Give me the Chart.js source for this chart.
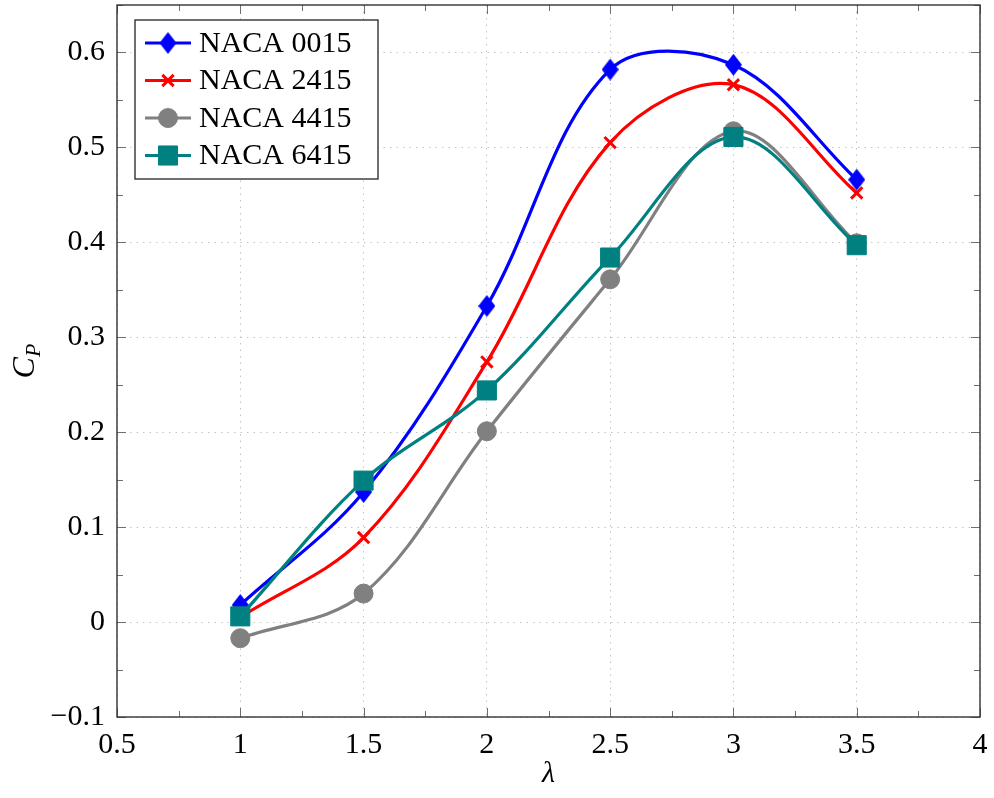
<!DOCTYPE html>
<html>
<head>
<meta charset="utf-8">
<script src="https://cdn.jsdelivr.net/npm/chart.js@4"></script>
<style>
  html, body { margin: 0; padding: 0; background: #fff; }
</style>
</head>
<body>
<canvas id="cpChart" width="994" height="798"></canvas>
<script>
// tip speed ratio values and power coefficients
const lambdaVals = [1, 1.5, 2, 2.5, 3, 3.5];
const naca0015 = [0.018, 0.137, 0.333, 0.582, 0.587, 0.466];
const naca2415 = [0.005, 0.089, 0.274, 0.505, 0.566, 0.452];
const naca4415 = [-0.017, 0.030, 0.201, 0.361, 0.517, 0.399];
const naca6415 = [0.006, 0.149, 0.244, 0.384, 0.511, 0.397];
const seriesNames = ["NACA 0015", "NACA 2415", "NACA 4415", "NACA 6415"];
const xTicks = [0.5, 1, 1.5, 2, 2.5, 3, 3.5, 4];
const yTicks = [-0.1, 0, 0.1, 0.2, 0.3, 0.4, 0.5, 0.6];

const serif = "'Liberation Serif', 'DejaVu Serif', serif";
const tickFont = { family: serif, size: 30 };

// pgfplots style diamond (taller than wide)
function makeDiamond(color, w, h) {
  const c = document.createElement("canvas");
  c.width = w;
  c.height = h;
  const g = c.getContext("2d");
  g.fillStyle = color;
  g.beginPath();
  g.moveTo(w / 2, 0);
  g.lineTo(w, h / 2);
  g.lineTo(w / 2, h);
  g.lineTo(0, h / 2);
  g.closePath();
  g.fill();
  return c;
}

function series(label, values, color, style, radius, order) {
  return {
    label: label,
    data: lambdaVals.map((x, i) => ({ x: x, y: values[i] })),
    borderColor: color,
    backgroundColor: color,
    pointBackgroundColor: color,
    pointBorderColor: color,
    pointStyle: style,
    pointRadius: radius,
    pointBorderWidth: style === "crossRot" ? 3 : 1,
    borderWidth: 3.2,
    tension: 0.35,
    order: order
  };
}

const datasets = [
  series(seriesNames[0], naca0015, "#0000ff", makeDiamond("#0000ff", 17, 22), 9, 4),
  series(seriesNames[1], naca2415, "#ff0000", "crossRot", 8, 3),
  series(seriesNames[2], naca4415, "#808080", "circle", 9.5, 2),
  series(seriesNames[3], naca6415, "#008080", "rect", 13.5, 1)
];

function fmt(v) {
  return v < 0 ? "\u2212" + Math.abs(v) : String(v);
}

function midpoints(arr) {
  const out = [];
  for (let i = 1; i < arr.length; i++) out.push((arr[i - 1] + arr[i]) / 2);
  return out;
}

// frame, inward ticks, legend and axis titles
const framePlugin = {
  id: "frame",
  afterDatasetsDraw(chart) {
    const ctx = chart.ctx;
    const a = chart.chartArea;
    const x = chart.scales.x;
    const y = chart.scales.y;
    ctx.save();

    // tick marks on all four sides
    ctx.strokeStyle = "#707070";
    ctx.lineWidth = 1;
    const tickX = (v, len) => {
      const px = Math.round(x.getPixelForValue(v)) + 0.5;
      ctx.beginPath();
      ctx.moveTo(px, a.bottom); ctx.lineTo(px, a.bottom - len);
      ctx.moveTo(px, a.top); ctx.lineTo(px, a.top + len);
      ctx.stroke();
    };
    const tickY = (v, len) => {
      const py = Math.round(y.getPixelForValue(v)) + 0.5;
      ctx.beginPath();
      ctx.moveTo(a.left, py); ctx.lineTo(a.left + len, py);
      ctx.moveTo(a.right, py); ctx.lineTo(a.right - len, py);
      ctx.stroke();
    };
    xTicks.forEach(v => tickX(v, 9));
    midpoints(xTicks).forEach(v => tickX(v, 6));
    yTicks.forEach(v => tickY(v, 9));
    midpoints(yTicks.concat([0.7])).forEach(v => { if (v < y.max) tickY(v, 6); });

    // frame
    ctx.strokeStyle = "#333333";
    ctx.lineWidth = 1.4;
    ctx.strokeRect(a.left, a.top, a.right - a.left, a.bottom - a.top);

    // legend
    const lx = a.left + 18, ly = a.top + 15, lw = 243, lh = 159;
    ctx.fillStyle = "#ffffff";
    ctx.fillRect(lx, ly, lw, lh);
    ctx.strokeStyle = "#222222";
    ctx.lineWidth = 1.3;
    ctx.strokeRect(lx, ly, lw, lh);
    ctx.font = "30px " + serif;
    ctx.textBaseline = "middle";
    ctx.textAlign = "left";
    chart.data.datasets.forEach((ds, i) => {
      const cy = ly + 23 + i * 37.5;
      ctx.strokeStyle = ds.borderColor;
      ctx.lineWidth = ds.borderWidth;
      ctx.beginPath();
      ctx.moveTo(lx + 10, cy);
      ctx.lineTo(lx + 56, cy);
      ctx.stroke();
      ctx.fillStyle = ds.backgroundColor;
      ctx.strokeStyle = ds.borderColor;
      ctx.lineWidth = ds.pointBorderWidth;
      Chart.helpers.drawPoint(ctx, {
        pointStyle: ds.pointStyle,
        radius: ds.pointRadius,
        rotation: 0,
        borderWidth: ds.pointBorderWidth
      }, lx + 33, cy);
      ctx.fillStyle = "#000000";
      ctx.fillText(ds.label, lx + 64, cy + 1);
    });

    // x title
    ctx.fillStyle = "#000000";
    ctx.font = "italic 30px " + serif;
    ctx.textAlign = "center";
    ctx.textBaseline = "middle";
    ctx.fillText("\u03bb", (a.left + a.right) / 2, 774);

    // y title C_P
    ctx.translate(24, (a.top + a.bottom) / 2);
    ctx.rotate(-Math.PI / 2);
    ctx.textAlign = "left";
    ctx.textBaseline = "alphabetic";
    ctx.font = "italic 32px " + serif;
    const wC = ctx.measureText("C").width;
    ctx.font = "italic 22px " + serif;
    const wP = ctx.measureText("P").width;
    const x0 = -(wC + wP) / 2;
    ctx.font = "italic 32px " + serif;
    ctx.fillText("C", x0, 10);
    ctx.font = "italic 22px " + serif;
    ctx.fillText("P", x0 + wC, 16);

    ctx.restore();
  }
};

new Chart(document.getElementById("cpChart"), {
  type: "line",
  data: { datasets: datasets },
  plugins: [framePlugin],
  options: {
    responsive: false,
    animation: false,
    layout: { autoPadding: false, padding: { top: 5, right: 14, left: 0, bottom: 0 } },
    plugins: { legend: { display: false }, tooltip: { enabled: false } },
    scales: {
      x: {
        type: "linear",
        min: 0.5,
        max: 4,
        afterBuildTicks: s => { s.ticks = xTicks.map(v => ({ value: v })); },
        afterFit: s => { s.height = 81; s.paddingLeft = 0; s.paddingRight = 0; },
        grid: { color: "#c4c4c4", lineWidth: 1, drawTicks: false },
        border: { display: false, dash: [1.5, 5] },
        ticks: { padding: 10, color: "#000", font: tickFont, maxRotation: 0, autoSkip: false, callback: fmt }
      },
      y: {
        type: "linear",
        min: -0.1,
        max: 0.65,
        afterBuildTicks: s => { s.ticks = yTicks.map(v => ({ value: v })); },
        afterFit: s => { s.width = 117; s.paddingTop = 0; s.paddingBottom = 0; },
        grid: { color: "#c4c4c4", lineWidth: 1, drawTicks: false },
        border: { display: false, dash: [1.5, 5] },
        ticks: { padding: 12, color: "#000", font: tickFont, autoSkip: false, callback: fmt }
      }
    }
  }
});
</script>
</body>
</html>
